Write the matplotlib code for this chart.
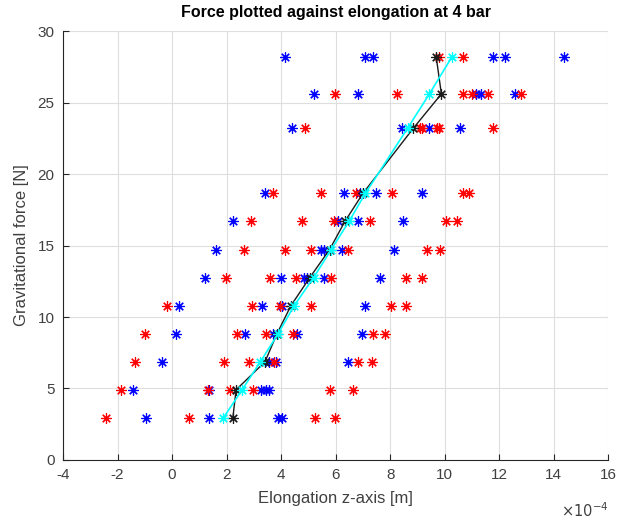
import numpy as np
import matplotlib.pyplot as plt

plt.rcParams['font.family'] = ['Liberation Sans', 'DejaVu Sans']
plt.rcParams['axes.unicode_minus'] = False

# gravitational force per load step [N]
force = [2.94, 4.91, 6.87, 8.83, 10.79, 12.75, 14.72, 16.68, 18.64, 23.2, 25.6, 28.2]

# elongation readings, units of 1e-4 m, one list per load step
blue_x = [
    [-0.97, 1.36, 3.89, 4.02],
    [-1.44, 1.36, 3.25, 3.43, 3.54],
    [-0.38, 3.54, 3.82, 6.44],
    [0.15, 2.68, 3.71, 4.58, 6.96],
    [0.25, 3.30, 4.05, 7.08],
    [1.22, 3.99, 4.85, 4.95, 5.58, 7.64],
    [1.61, 5.47, 5.56, 6.25, 8.15],
    [2.23, 6.08, 6.81, 8.49],
    [3.42, 6.31, 6.89, 7.47, 9.18],
    [4.40, 8.45, 9.43, 10.57],
    [5.22, 6.81, 11.16, 11.33, 12.59],
    [4.15, 7.06, 7.36, 11.76, 12.20, 14.38],
]
red_x = [
    [-2.43, 0.61, 5.24, 5.99],
    [-1.87, 1.31, 2.14, 2.96, 5.78, 6.63],
    [-1.37, 1.90, 2.82, 3.73, 6.82, 7.34],
    [-1.00, 2.39, 3.45, 4.42, 7.36, 7.82],
    [-0.18, 2.95, 3.95, 5.10, 8.03, 8.58],
    [1.99, 3.58, 4.55, 5.84, 8.58, 9.17],
    [2.64, 4.15, 5.11, 6.47, 9.36, 9.83],
    [2.89, 4.76, 5.95, 7.25, 10.05, 10.44],
    [3.71, 5.47, 6.73, 8.07, 10.68, 10.90],
    [4.88, 9.10, 9.16, 9.73, 9.79, 11.78],
    [5.96, 8.25, 10.68, 11.00, 11.59, 12.80],
    [9.80, 10.66],
]
mean_x = [2.23, 2.35, 3.41, 3.85, 4.36, 5.05, 5.78, 6.34, 7.00, 8.85, 9.88, 9.69]
fit_x = [1.88, 2.57, 3.24, 3.89, 4.48, 5.19, 5.84, 6.49, 7.09, 8.64, 9.44, 10.27]

asterisk = (8, 2, 0)
ms = 7.5

fig = plt.figure(figsize=(6.2, 5.19), dpi=100)
ax = fig.add_axes([0.1016, 0.1137, 0.8794, 0.8265])

for f, bx in zip(force, blue_x):
    ax.plot(bx, [f] * len(bx), linestyle='none', marker=asterisk, ms=ms,
            color='#0000ff', mew=0.85)
for f, rx in zip(force, red_x):
    ax.plot(rx, [f] * len(rx), linestyle='none', marker=asterisk, ms=ms,
            color='#ff0000', mew=0.85)

ax.plot(mean_x, force, color='#1a1a1a', lw=1.0, marker=asterisk, ms=ms, mew=0.85)
ax.plot(fit_x, force, color='#00ffff', lw=1.2, marker=asterisk, ms=ms, mew=0.85)

ax.set_xlim(-4, 16)
ax.set_ylim(0, 30)
ax.set_xticks(np.arange(-4, 17, 2))
ax.set_yticks(np.arange(0, 31, 5))
ax.grid(True, color='#dedede', lw=0.8)
ax.set_axisbelow(True)

for s in ['top', 'right']:
    ax.spines[s].set_visible(False)
for s in ['left', 'bottom']:
    ax.spines[s].set_color('#262626')
    ax.spines[s].set_linewidth(0.8)
ax.tick_params(direction='in', length=4, width=0.8, colors='#262626',
               labelsize=11, pad=6)
for lbl in ax.get_xticklabels() + ax.get_yticklabels():
    lbl.set_color('#404040')

ax.set_title('Force plotted against elongation at 4 bar', fontsize=11.5,
             fontweight='bold', color='black', pad=10)
ax.set_xlabel('Elongation z-axis [m]', fontsize=12, color='#404040', labelpad=6)
ax.set_ylabel('Gravitational force [N]', fontsize=12, color='#404040', labelpad=6)
ax.text(1.0, -0.118, r'$\times10^{-4}$', transform=ax.transAxes,
        ha='right', va='center', fontsize=10.5, color='#404040')

fig.savefig('out.png', dpi=100)
